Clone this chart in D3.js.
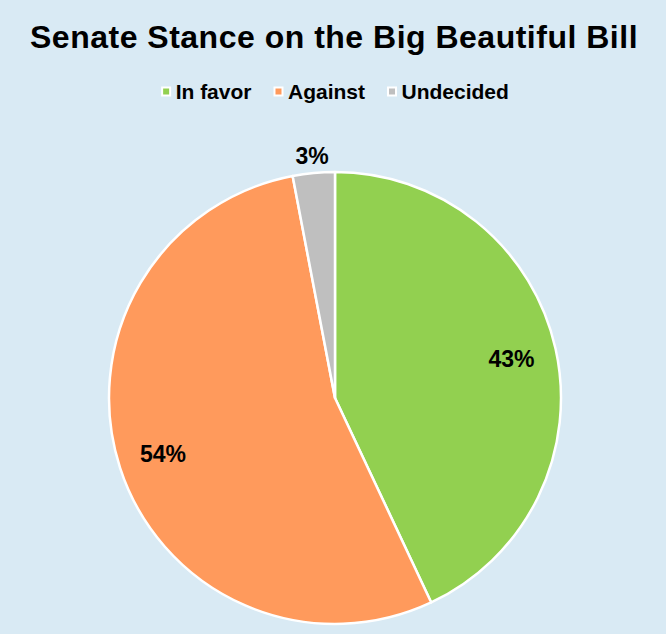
<!DOCTYPE html>
<html>
<head>
<meta charset="utf-8">
<script src="https://cdn.jsdelivr.net/npm/d3@7"></script>
<style>
  html, body { margin: 0; padding: 0; background: #D9EAF4; }
  svg { display: block; }
  text { font-family: "Liberation Sans", Arial, sans-serif; }
</style>
</head>
<body>
<svg id="chart" width="666" height="634"></svg>
<script>
const categories = ["In favor", "Against", "Undecided"];
const shares = [43, 54, 3];
const colors = ["#92D050", "#FF9A5C", "#BFBFBF"];
const title = "Senate Stance on the Big Beautiful Bill";

const W = 666, H = 634;
const svg = d3.select("#chart");

svg.append("rect").attr("width", W).attr("height", H).attr("fill", "#D9EAF4");

svg.append("text")
  .attr("x", 334).attr("y", 48)
  .attr("text-anchor", "middle")
  .attr("font-size", 32).attr("font-weight", "bold")
  .attr("letter-spacing", 0.5)
  .attr("fill", "#000")
  .text(title);

// Legend: small white-edged swatches followed by bold labels, centred as a row
const legend = svg.append("g").attr("transform", "translate(0,91.5)");
const items = legend.selectAll("g").data(categories).join("g");
items.append("rect")
  .attr("x", 1.5).attr("width", 8).attr("height", 8).attr("y", -4)
  .attr("fill", (d, i) => colors[i])
  .attr("stroke", "#fff").attr("stroke-width", 2);
items.append("text")
  .attr("x", 15).attr("dy", "0.36em")
  .attr("font-size", 21).attr("font-weight", "bold")
  .text(d => d);
const gap = 23;
const widths = items.nodes().map(n => n.getBBox().width);
const total = d3.sum(widths) + gap * (widths.length - 1);
let x = 334 - total / 2;
items.attr("transform", (d, i) => {
  const t = `translate(${x},0)`;
  x += widths[i] + gap;
  return t;
});

// Pie
const cx = 335, cy = 398, r = 226;
const pie = d3.pie().sort(null).value(d => d);
const arcs = pie(shares);
const arc = d3.arc().innerRadius(0).outerRadius(r);
const g = svg.append("g").attr("transform", `translate(${cx},${cy})`);

g.selectAll("path").data(arcs).join("path")
  .attr("d", arc)
  .attr("fill", (d, i) => colors[i])
  .attr("stroke", "#fff").attr("stroke-width", 2.5)
  .attr("stroke-linejoin", "round");

// Data labels: inside for large slices, just outside for thin ones
g.selectAll("text.lbl").data(arcs).join("text")
  .attr("class", "lbl")
  .attr("transform", d => {
    const a = (d.startAngle + d.endAngle) / 2;
    const small = d.endAngle - d.startAngle < 0.3;
    const rr = small ? r + 17 : r * 0.8;
    return `translate(${Math.sin(a) * rr},${-Math.cos(a) * rr})`;
  })
  .attr("text-anchor", "middle").attr("dy", "0.36em")
  .attr("font-size", 23).attr("font-weight", "bold")
  .attr("fill", "#000")
  .text(d => d.data + "%");
</script>
</body>
</html>
